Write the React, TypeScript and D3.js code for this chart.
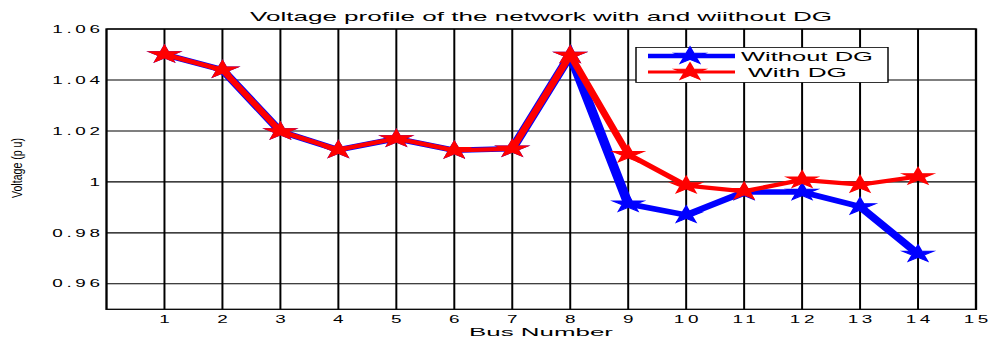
import React from "react";
import * as d3 from "d3";

// values
const buses = [1, 2, 3, 4, 5, 6, 7, 8, 9, 10, 11, 12, 13, 14];
const withoutDG = [1.05, 1.044, 1.0198, 1.0126, 1.017, 1.0124, 1.013, 1.0498, 0.9914, 0.987, 0.996, 0.996, 0.9903, 0.9717];
const withDG = [1.05, 1.044, 1.0198, 1.0126, 1.017, 1.0124, 1.013, 1.0498, 1.0108, 0.9986, 0.9963, 1.0008, 0.9989, 1.0021];
const xTicks = [1, 2, 3, 4, 5, 6, 7, 8, 9, 10, 11, 12, 13, 14, 15];
const yTicks = [0.96, 0.98, 1, 1.02, 1.04, 1.06];
const yTickLabels = ["0.96", "0.98", "1", "1.02", "1.04", "1.06"];
const seriesNames = ["Without DG", "With DG"];
const seriesColors = ["#0000ff", "#ff0000"];

const W = 989;
const H = 340;
// the picture is stretched sideways, so draw in narrower units and stretch the svg
const SX = 1.8;
const LW = W / SX;

const left = 106.5 / SX;
const right = 976 / SX;
const top = 29;
const bottom = 309.3;

const font = "'Liberation Sans', Arial, sans-serif";

const App = () => {
  const x = d3.scaleLinear().domain([0, 15]).range([left, right]);
  const y = d3.scaleLinear().domain([0.95, 1.06]).range([bottom, top]);

  const line = d3
    .line<number>()
    .x((d, i) => x(buses[i]))
    .y((d) => y(d));

  const star = d3.symbol().type(d3.symbolStar).size(91)();

  const series = [withoutDG, withDG];
  const widths = [5.5, 4.2];

  return (
    <svg
      width={W}
      height={H}
      viewBox={`0 0 ${LW} ${H}`}
      preserveAspectRatio="none"
      style={{ position: "absolute", left: 0, top: 0, background: "#fff" }}
    >
      <rect x={0} y={0} width={LW} height={H} fill="#fff" />

      {/* grid */}
      {xTicks.map((t) => (
        <line key={"gx" + t} x1={x(t)} x2={x(t)} y1={top} y2={bottom} stroke="#000" strokeWidth={1.1} />
      ))}
      {yTicks.map((t) => (
        <line key={"gy" + t} x1={left} x2={right} y1={y(t)} y2={y(t)} stroke="#000" strokeWidth={1.1} />
      ))}
      <rect x={left} y={top} width={right - left} height={bottom - top} fill="none" stroke="#000" strokeWidth={1.3} />

      {/* tick labels */}
      {xTicks.map((t) => (
        <text
          key={"tx" + t}
          x={x(t) + 1}
          y={323}
          textAnchor="middle"
          fontFamily={font}
          fontSize={10.5}
          letterSpacing={2}
          fill="#000"
        >
          {t}
        </text>
      ))}
      {yTicks.map((t, i) => (
        <text
          key={"ty" + t}
          x={57.5}
          y={y(t)}
          dy="0.35em"
          textAnchor="end"
          fontFamily={font}
          fontSize={10.5}
          letterSpacing={2}
          fill="#000"
        >
          {yTickLabels[i]}
        </text>
      ))}

      {/* series */}
      {series.map((s, k) => (
        <g key={"s" + k}>
          <path d={line(s) || ""} fill="none" stroke={seriesColors[k]} strokeWidth={widths[k]} strokeLinejoin="miter" />
          {s.map((v, i) => (
            <path
              key={i}
              d={star || ""}
              transform={`translate(${x(buses[i])},${y(v)})`}
              fill={seriesColors[k]}
              stroke={seriesColors[k]}
              strokeWidth={1}
            />
          ))}
        </g>
      ))}

      {/* title and axis labels */}
      <text
        x={541 / SX}
        y={21}
        textAnchor="middle"
        fontFamily={font}
        fontSize={12.5}
        textLength={582 / SX}
        lengthAdjust="spacingAndGlyphs"
        fill="#000"
      >
        Voltage profile of the network with and wiithout DG
      </text>
      <text
        x={541 / SX}
        y={336}
        textAnchor="middle"
        fontFamily={font}
        fontSize={11}
        textLength={144 / SX}
        lengthAdjust="spacingAndGlyphs"
        fill="#000"
      >
        Bus Number
      </text>
      <text
        transform={`translate(${17.5 / SX},168) scale(${1.35 / SX},1) rotate(-90)`}
        textAnchor="middle"
        dominantBaseline="central"
        fontFamily={font}
        fontSize={10.5}
        textLength={60}
        lengthAdjust="spacingAndGlyphs"
        fill="#000"
      >
        Voltage (p u)
      </text>

      {/* legend */}
      <rect x={636 / SX} y={47.5} width={252 / SX} height={35} fill="#fff" stroke="#000" strokeWidth={0.8} />
      {seriesNames.map((name, k) => {
        const ly = k === 0 ? 56 : 72;
        return (
          <g key={"lg" + k}>
            <line x1={648 / SX} x2={735 / SX} y1={ly} y2={ly} stroke={seriesColors[k]} strokeWidth={widths[k] - 1} />
            <path d={star || ""} transform={`translate(${690 / SX},${ly})`} fill={seriesColors[k]} stroke={seriesColors[k]} strokeWidth={1} />
            <text
              x={(k === 0 ? 741 : 748) / SX}
              y={ly + 5.5}
              fontFamily={font}
              fontSize={12}
              textLength={(k === 0 ? 132 : 99) / SX}
              lengthAdjust="spacingAndGlyphs"
              fill="#000"
            >
              {name}
            </text>
          </g>
        );
      })}
    </svg>
  );
};

export default App;
